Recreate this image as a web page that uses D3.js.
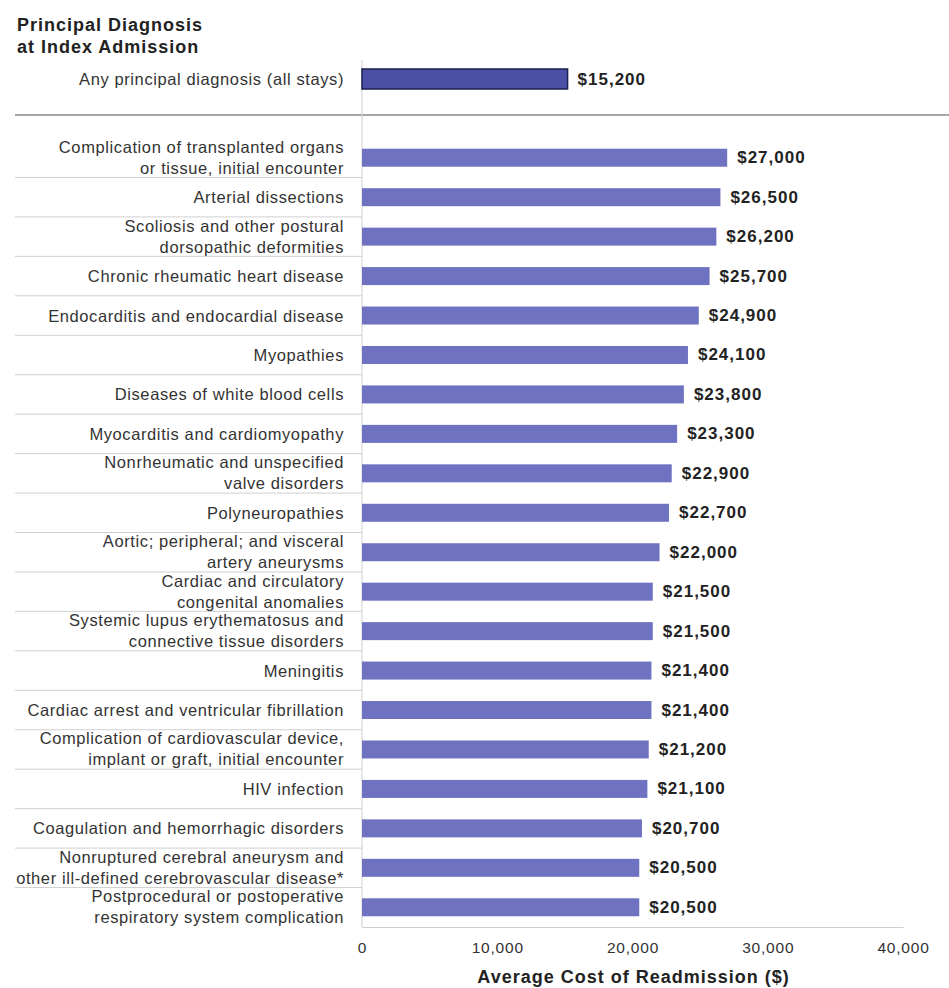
<!DOCTYPE html>
<html>
<head>
<meta charset="utf-8">
<script src="https://cdn.jsdelivr.net/npm/d3@7"></script>
<style>
  body { margin: 0; background: #fff; }
  svg text { font-family: "Liberation Sans", Arial, sans-serif; }
</style>
</head>
<body>
<div id="chart"></div>
<script>
// Data
var allStaysLabel = ["Any principal diagnosis (all stays)"];
var allStaysValue = [15200];

var diagnoses = [
  ["Complication of transplanted organs", "or tissue, initial encounter"],
  ["Arterial dissections"],
  ["Scoliosis and other postural", "dorsopathic deformities"],
  ["Chronic rheumatic heart disease"],
  ["Endocarditis and endocardial disease"],
  ["Myopathies"],
  ["Diseases of white blood cells"],
  ["Myocarditis and cardiomyopathy"],
  ["Nonrheumatic and unspecified", "valve disorders"],
  ["Polyneuropathies"],
  ["Aortic; peripheral; and visceral", "artery aneurysms"],
  ["Cardiac and circulatory", "congenital anomalies"],
  ["Systemic lupus erythematosus and", "connective tissue disorders"],
  ["Meningitis"],
  ["Cardiac arrest and ventricular fibrillation"],
  ["Complication of cardiovascular device,", "implant or graft, initial encounter"],
  ["HIV infection"],
  ["Coagulation and hemorrhagic disorders"],
  ["Nonruptured cerebral aneurysm and", "other ill-defined cerebrovascular disease*"],
  ["Postprocedural or postoperative", "respiratory system complication"]
];
var costs = [27000, 26500, 26200, 25700, 24900, 24100, 23800, 23300, 22900, 22700,
             22000, 21500, 21500, 21400, 21400, 21200, 21100, 20700, 20500, 20500];
var xTicks = [0, 10000, 20000, 30000, 40000];

var svgWidth = 949;
var svgHeight = 988;

var svg = d3.select("#chart")
  .append("svg")
  .attr("width", svgWidth)
  .attr("height", svgHeight);

// Scales
var xScale = d3.scaleLinear()
  .domain([0, 40000])
  .range([362, 903]);

var rows = diagnoses.map(function (d, i) { return i; });
var yScale = d3.scaleBand()
  .domain(rows)
  .range([138, 927]);

var yTop = d3.scaleBand()
  .domain([0])
  .range([59, 99]);

var barH = 18;
var fmt = d3.format(",");
var labelX = 344;

// Title
var title = svg.append("text")
  .attr("x", 17)
  .attr("y", 31)
  .attr("font-size", "18px")
  .attr("font-weight", "bold")
  .attr("letter-spacing", "1px")
  .attr("fill", "#222");
title.append("tspan").attr("x", 17).text("Principal Diagnosis");
title.append("tspan").attr("x", 17).attr("dy", 22).text("at Index Admission");

// Row separators in the label area
var seps = rows.slice(0, rows.length - 1);
svg.append("g").selectAll("line")
  .data(seps)
  .enter()
  .append("line")
  .attr("x1", 15)
  .attr("x2", xScale(0))
  .attr("y1", d => yScale(d) + yScale.bandwidth())
  .attr("y2", d => yScale(d) + yScale.bandwidth())
  .attr("stroke", "#d0d0d0")
  .attr("stroke-width", 1);

// Separator under the all-stays row
svg.append("line")
  .attr("x1", 15)
  .attr("x2", svgWidth)
  .attr("y1", 115)
  .attr("y2", 115)
  .attr("stroke", "#8a8a8a")
  .attr("stroke-width", 1.5);

// Vertical axis line
svg.append("line")
  .attr("x1", xScale(0))
  .attr("x2", xScale(0))
  .attr("y1", 60)
  .attr("y2", 927)
  .attr("stroke", "#cfcfcf")
  .attr("stroke-width", 1);

// X axis
var xAxis = d3.axisBottom(xScale)
  .tickValues(xTicks)
  .tickSize(0)
  .tickPadding(15)
  .tickFormat(fmt);

var axisG = svg.append("g")
  .attr("transform", "translate(0,927)")
  .call(xAxis);
axisG.select(".domain").attr("stroke", "#cfcfcf");
axisG.selectAll("text")
  .attr("font-size", "15.5px")
  .attr("letter-spacing", "0.8px")
  .attr("fill", "#333")
  .style("font-family", "Liberation Sans, Arial, sans-serif");

svg.append("text")
  .attr("x", (xScale(0) + xScale(40000)) / 2 + 1)
  .attr("y", 983)
  .attr("text-anchor", "middle")
  .attr("font-size", "18px")
  .attr("font-weight", "bold")
  .attr("letter-spacing", "1px")
  .attr("fill", "#222")
  .text("Average Cost of Readmission ($)");

// All-stays bar
svg.append("g").selectAll("rect")
  .data(allStaysValue)
  .enter()
  .append("rect")
  .attr("x", xScale(0))
  .attr("y", (d, i) => yTop(i) + yTop.bandwidth() / 2 - 10)
  .attr("width", d => xScale(d) - xScale(0))
  .attr("height", 20)
  .attr("fill", "#4b4fa6")
  .attr("stroke", "#1d1f4e")
  .attr("stroke-width", 1.5);

svg.append("g").selectAll("text")
  .data(allStaysLabel)
  .enter()
  .append("text")
  .attr("x", labelX)
  .attr("y", (d, i) => yTop(i) + yTop.bandwidth() / 2)
  .attr("dominant-baseline", "central")
  .attr("text-anchor", "end")
  .attr("font-size", "16.5px")
  .attr("letter-spacing", "0.6px")
  .attr("fill", "#333")
  .text(d => d);

svg.append("g").selectAll("text")
  .data(allStaysValue)
  .enter()
  .append("text")
  .attr("x", d => xScale(d) + 10)
  .attr("y", (d, i) => yTop(i) + yTop.bandwidth() / 2)
  .attr("dominant-baseline", "central")
  .attr("font-size", "17px")
  .attr("font-weight", "bold")
  .attr("letter-spacing", "1px")
  .attr("fill", "#222")
  .text(d => "$" + fmt(d));

// Diagnosis bars
svg.append("g").selectAll("rect")
  .data(costs)
  .enter()
  .append("rect")
  .attr("x", xScale(0))
  .attr("y", (d, i) => yScale(i) + yScale.bandwidth() / 2 - barH / 2)
  .attr("width", d => xScale(d) - xScale(0))
  .attr("height", barH)
  .attr("fill", "#6e72c1");

svg.append("g").selectAll("text")
  .data(costs)
  .enter()
  .append("text")
  .attr("x", d => xScale(d) + 10)
  .attr("y", (d, i) => yScale(i) + yScale.bandwidth() / 2)
  .attr("dominant-baseline", "central")
  .attr("font-size", "17px")
  .attr("font-weight", "bold")
  .attr("letter-spacing", "1px")
  .attr("fill", "#222")
  .text(d => "$" + fmt(d));

// Category labels (one or two lines)
var labelG = svg.append("g").selectAll("text")
  .data(diagnoses)
  .enter()
  .append("text")
  .attr("text-anchor", "end")
  .attr("font-size", "16.5px")
  .attr("letter-spacing", "0.6px")
  .attr("fill", "#333")
  .attr("dominant-baseline", "central");

labelG.each(function (lines, i) {
  var cy = yScale(i) + yScale.bandwidth() / 2;
  var t = d3.select(this);
  lines.forEach(function (line, j) {
    var off = lines.length === 1 ? 0 : (j === 0 ? -11 : 10);
    t.append("tspan")
      .attr("x", labelX)
      .attr("y", cy + off)
      .text(line);
  });
});
</script>
</body>
</html>
